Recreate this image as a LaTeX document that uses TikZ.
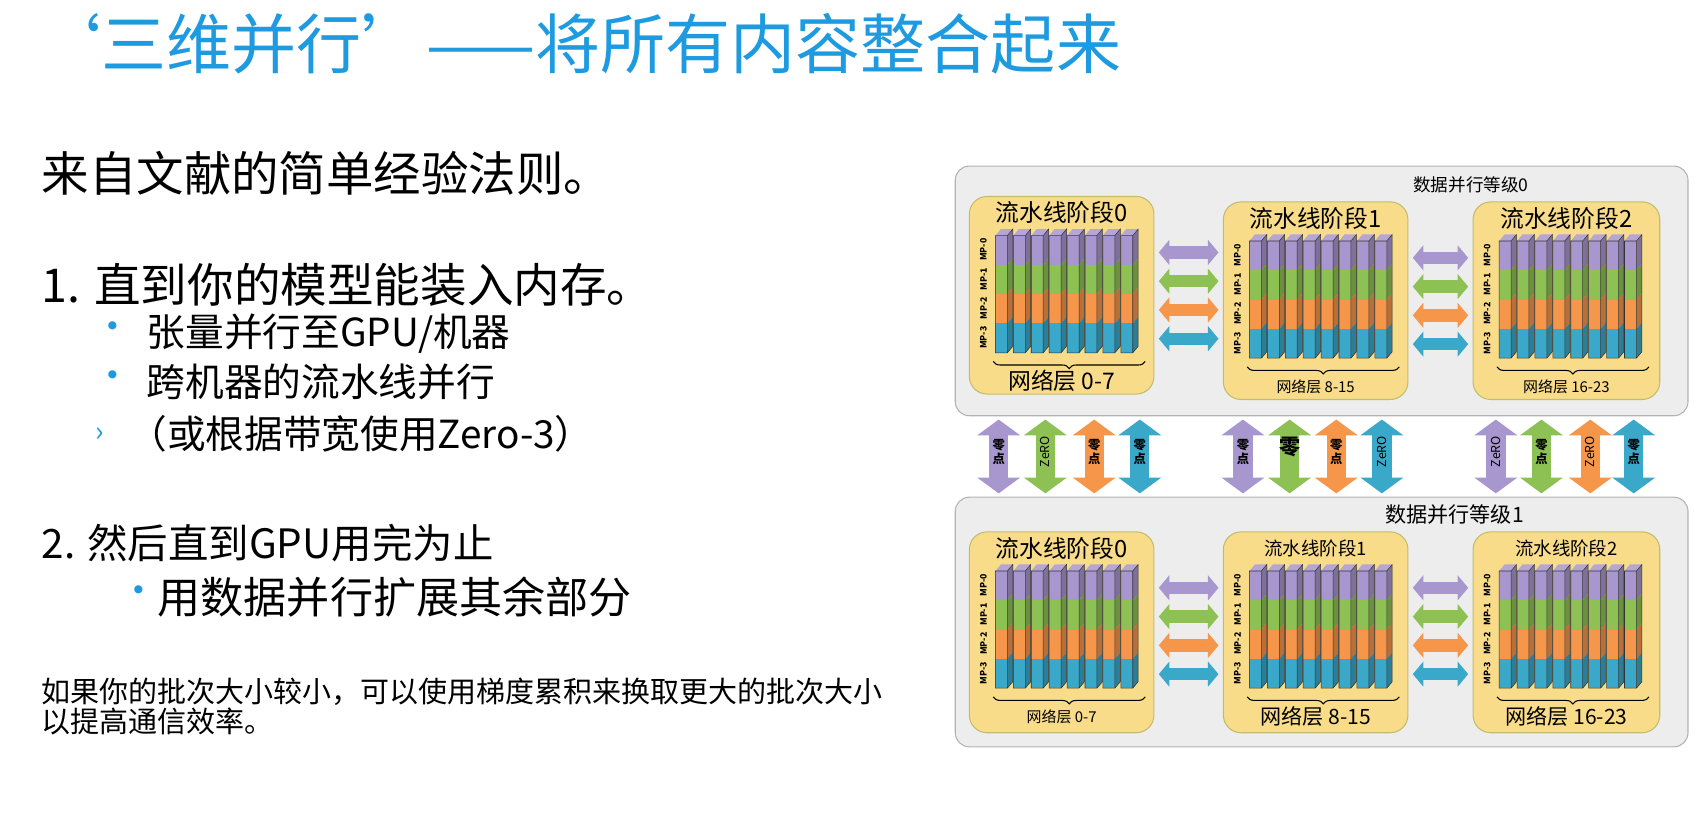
\documentclass[tikz,border=0pt]{standalone}
\usepackage{fontspec}
\setmainfont{Noto Sans CJK SC}
\usepackage{tikz}
\usetikzlibrary{arrows.meta, positioning, calc, fit, decorations.pathreplacing}

\definecolor{titleblue}{HTML}{1E9BE0}
\definecolor{mpA}{HTML}{A896CF}
\definecolor{mpB}{HTML}{8DC153}
\definecolor{mpC}{HTML}{F6964A}
\definecolor{mpD}{HTML}{3AA8C9}
\definecolor{boxyellow}{HTML}{F8DC8A}
\definecolor{panelgray}{HTML}{EDEDED}

\tikzset{
  txt/.style={anchor=west, inner sep=0pt},
  panel/.style={draw=gray!60, fill=panelgray, rounded corners=8, line width=0.6pt, inner sep=0pt},
  stagebox/.style={draw=gray!55!yellow, fill=boxyellow, rounded corners=10, line width=0.6pt, inner sep=0pt},
  harrow/.style={line width=7pt, {Triangle[width=14pt,length=6pt]}-{Triangle[width=14pt,length=6pt]}},
  varrow/.style={line width=11pt, {Triangle[width=24pt,length=9pt]}-{Triangle[width=24pt,length=9pt]}},
  mplabel/.style={rotate=90, font=\fontsize{5}{5}\selectfont\bfseries, inner sep=0pt},
}

% name, x, y, w, h, title, title size, layers, layers size
\newcommand{\pipestage}[9]{%
  \node[stagebox, fit={(#2,#3) (#2+#4,#3+#5)}] (#1) {};
  \node[inner sep=0pt, font=#7] at (#2+#4/2,#3+15) {#6};
  \foreach \i in {0,...,7} {
    \pgfmathsetmacro\sx{#2+24+\i*16.5}
    \foreach \c [count=\k from 0] in {mpA,mpB,mpC,mpD} {
      \pgfmathsetmacro\yt{#3+36+\k*27}
      \fill[\c!75!black] (\sx+11,\yt) -- (\sx+16,\yt-6) -- (\sx+16,\yt+21) -- (\sx+11,\yt+27) -- cycle;
      \fill[\c] (\sx,\yt) rectangle (\sx+11,\yt+27);
    }
    \fill[mpA!85!white] (\sx,#3+36) -- (\sx+5,#3+30) -- (\sx+16,#3+30) -- (\sx+11,#3+36) -- cycle;
    \draw[gray!40!black, line width=0.3pt] (\sx,#3+36) rectangle (\sx+11,#3+144)
      (\sx+11,#3+36) -- (\sx+16,#3+30) -- (\sx+16,#3+138) -- (\sx+11,#3+144);
  }
  \foreach \t [count=\k from 0] in {MP-0,MP-1,MP-2,MP-3}
    \node[mplabel] at (#2+13,#3+49+\k*27) {\t};
  \draw[decorate, decoration={brace, amplitude=4pt, mirror}, line width=0.6pt]
    (#2+22,#3+152) -- (#2+162,#3+152);
  \node[inner sep=0pt, font=#9] at (#2+#4/2,#3+170) {#8};
}

\begin{document}
\begin{tikzpicture}[x=0.0217cm, y=-0.0217cm]
  \useasboundingbox (0,0) rectangle (1567,762);

  % title and text
  \node[txt, text=titleblue, font=\fontsize{37}{40}\selectfont] (title) at (33,40) {‘三维并行’——将所有内容整合起来};
  \node[txt, font=\fontsize{27}{30}\selectfont] (rule) at (38,160) {来自文献的简单经验法则。};
  \node[txt, font=\fontsize{26.5}{30}\selectfont] (one) at (38,262) {1. 直到你的模型能装入内存。};
  \node[txt, text=titleblue, font=\fontsize{22}{24}\selectfont] (b1) at (86,305) {•};
  \node[txt, font=\fontsize{22}{26}\selectfont] (t1) at (135,307) {张量并行至GPU/机器};
  \node[txt, text=titleblue, font=\fontsize{22}{24}\selectfont] (b2) at (86,350) {•};
  \node[txt, font=\fontsize{22}{26}\selectfont] (t2) at (135,352) {跨机器的流水线并行};
  \node[txt, text=titleblue, font=\fontsize{16}{18}\selectfont] (b3) at (88,400) {›};
  \node[txt, font=\fontsize{22}{26}\selectfont] (t3) at (118,400) {（或根据带宽使用Zero-3）};
  \node[txt, font=\fontsize{23}{26}\selectfont] (two) at (38,500) {2. 然后直到GPU用完为止};
  \node[txt, text=titleblue, font=\fontsize{22}{24}\selectfont] (b4) at (110,548) {•};
  \node[txt, font=\fontsize{24.5}{28}\selectfont] (t4) at (145,550) {用数据并行扩展其余部分};
  \node[txt, font=\fontsize{16.5}{19}\selectfont] (note1) at (38,637) {如果你的批次大小较小，可以使用梯度累积来换取更大的批次大小};
  \node[txt, font=\fontsize{16.5}{19}\selectfont] (note2) at (38,665) {以提高通信效率。};

  % panels
  \node[panel, fit={(880,153) (1555,383)}] (p0) {};
  \node[panel, fit={(880,458) (1555,688)}] (p1) {};
  \node[inner sep=0pt, font=\fontsize{10}{12}\selectfont] (dp0) at (1355,170) {数据并行等级0};
  \node[inner sep=0pt, font=\fontsize{12}{14}\selectfont] (dp1) at (1340,474) {数据并行等级1};

  % stages
  \pipestage{s00}{893}{181}{170}{182}{流水线阶段0}{\fontsize{13.5}{15}\selectfont}{网络层 0-7}{\fontsize{13}{15}\selectfont}
  \pipestage{s01}{1127}{186}{170}{182}{流水线阶段1}{\fontsize{13.5}{15}\selectfont}{网络层 8-15}{\fontsize{8.5}{10}\selectfont}
  \pipestage{s02}{1357}{186}{172}{182}{流水线阶段2}{\fontsize{13.5}{15}\selectfont}{网络层 16-23}{\fontsize{8.5}{10}\selectfont}
  \pipestage{s10}{893}{490}{170}{185}{流水线阶段0}{\fontsize{13.5}{15}\selectfont}{网络层 0-7}{\fontsize{8.5}{10}\selectfont}
  \pipestage{s11}{1127}{490}{170}{185}{流水线阶段1}{\fontsize{10.5}{12}\selectfont}{网络层 8-15}{\fontsize{12}{14}\selectfont}
  \pipestage{s12}{1357}{490}{172}{185}{流水线阶段2}{\fontsize{10.5}{12}\selectfont}{网络层 16-23}{\fontsize{12}{14}\selectfont}

  % pipeline links
  \foreach \a/\b in {s00/s01,s01/s02,s10/s11,s11/s12}
    \foreach \c [count=\k from 0] in {mpA,mpB,mpC,mpD} {
      \coordinate (l) at ($(\a.north east)+(4,52+\k*26.5)$);
      \coordinate (r) at ($(l -| \b.west)+(-4,0)$);
      \draw[harrow, \c] (l) -- (r);
    }

  % data parallel links
  \foreach \x/\c in {920/mpA,963/mpB,1008/mpC,1050/mpD,
      1145/mpA,1188/mpB,1231/mpC,1273/mpD,
      1378/mpA,1420/mpB,1465/mpC,1505/mpD}
    \draw[varrow, \c] ($(p0.south -| \x,0)+(0,3)$) -- ($(p1.north -| \x,0)+(0,-3)$);
  \foreach \x in {920,1008,1050,1145,1231,1420,1505}
    \node[align=center, inner sep=0pt, font=\fontsize{7}{8}\selectfont\bfseries] at (\x,416) {零\\点};
  \foreach \x in {963,1273,1378,1465}
    \node[rotate=90, inner sep=0pt, font=\fontsize{7}{8}\selectfont] at (\x,416) {ZeRO};
  \node[inner sep=0pt, font=\fontsize{12}{14}\selectfont\bfseries] at (1188,412) {零};
\end{tikzpicture}
\end{document}
